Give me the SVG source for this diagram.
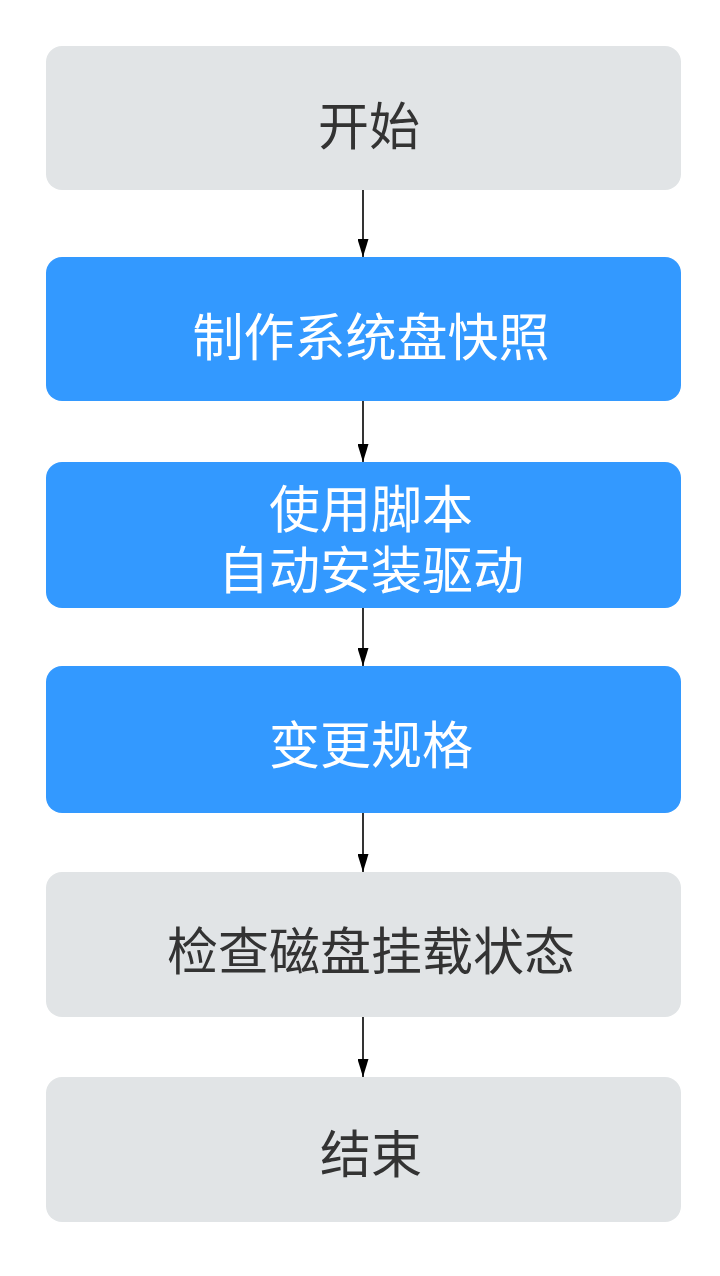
<svg xmlns="http://www.w3.org/2000/svg" width="720" height="1276" viewBox="0 0 720 1276">
<style>
.g{fill:#E1E4E6}
.b{fill:#3399FF}
text{font-family:"Noto Sans CJK SC","Liberation Sans",sans-serif;font-size:51px;text-anchor:middle}
.dt{fill:#333333}
.wt{fill:#FFFFFF}
.c{stroke:#000;stroke-width:1.6;fill:none}
</style>
<defs>
<marker id="ah" markerWidth="18" markerHeight="11" refX="18" refY="5.5" orient="auto" markerUnits="userSpaceOnUse" viewBox="0 0 18 11">
<path d="M0,0 L18,5.5 L0,11 Z" fill="#000"/>
</marker>
</defs>
<rect width="720" height="1276" fill="#fff"/>
<g id="n1"><rect class="g" x="46" y="46" width="635" height="144" rx="16"/><text class="dt" x="369" y="145">开始</text></g>
<g id="n2"><rect class="b" x="46" y="257" width="635" height="144" rx="16"/><text class="wt" x="371" y="356">制作系统盘快照</text></g>
<g id="n3"><rect class="b" x="46" y="462" width="635" height="146" rx="16"/><text class="wt" x="371" y="528">使用脚本</text><text class="wt" x="371" y="589">自动安装驱动</text></g>
<g id="n4"><rect class="b" x="46" y="666" width="635" height="147" rx="16"/><text class="wt" x="371" y="764">变更规格</text></g>
<g id="n5"><rect class="g" x="46" y="872" width="635" height="145" rx="16"/><text class="dt" x="371" y="970">检查磁盘挂载状态</text></g>
<g id="n6"><rect class="g" x="46" y="1077" width="635" height="145" rx="16"/><text class="dt" x="371" y="1173">结束</text></g>
<g id="connectors">
<line class="c" x1="363" y1="190" x2="363" y2="257" marker-end="url(#ah)"/>
<line class="c" x1="363" y1="401" x2="363" y2="462" marker-end="url(#ah)"/>
<line class="c" x1="363" y1="608" x2="363" y2="666" marker-end="url(#ah)"/>
<line class="c" x1="363" y1="813" x2="363" y2="872" marker-end="url(#ah)"/>
<line class="c" x1="363" y1="1017" x2="363" y2="1077" marker-end="url(#ah)"/>
</g>
</svg>
